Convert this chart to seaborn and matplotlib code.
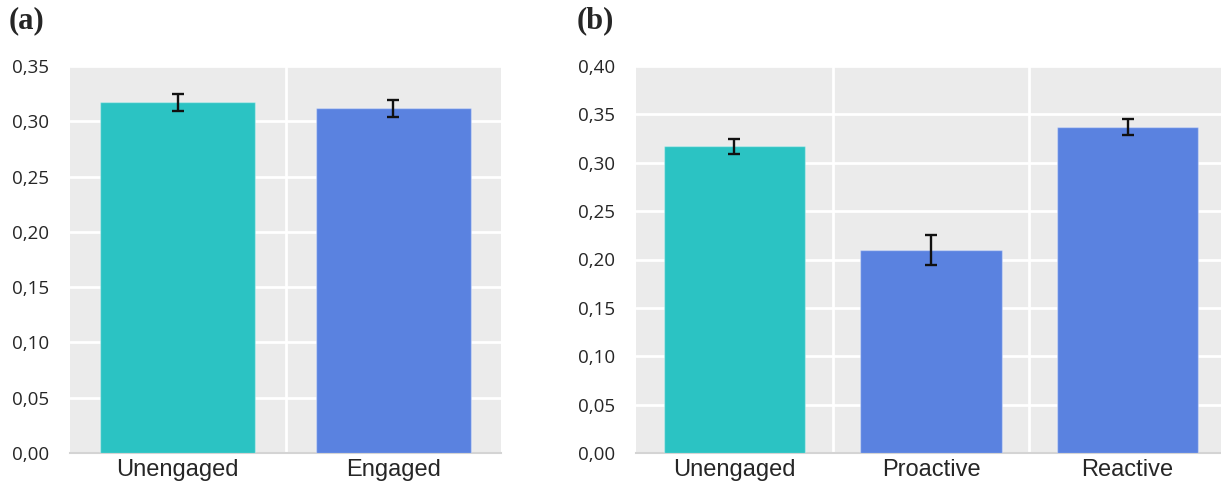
import matplotlib
matplotlib.use("Agg")
import matplotlib.pyplot as plt
import seaborn as sns
import pandas as pd
import numpy as np
from matplotlib.ticker import FuncFormatter

# ---- data ----
cats_a = ["Unengaged", "Engaged"]
vals_a = [0.317, 0.312]
err_a = [0.008, 0.0077]

cats_b = ["Unengaged", "Proactive", "Reactive"]
vals_b = [0.317, 0.210, 0.337]
err_b = [0.008, 0.0155, 0.0085]

yticks_a = [0.00, 0.05, 0.10, 0.15, 0.20, 0.25, 0.30, 0.35]
yticks_b = [0.00, 0.05, 0.10, 0.15, 0.20, 0.25, 0.30, 0.35, 0.40]

TEAL = "#2BC3C3"
BLUE = "#5A82E0"
BG = "#EBEBEB"

sns.set_theme(style="white")
plt.rcParams["font.family"] = ["Open Sans", "DejaVu Sans"]

fig = plt.figure(figsize=(12.21, 4.92), dpi=100)
ax_a = fig.add_axes([70 / 1221, 39 / 492, 431 / 1221, 387 / 492])
ax_b = fig.add_axes([636 / 1221, 39 / 492, 585 / 1221, 387 / 492])


def draw(ax, cats, vals, errs, yticks, colors, xmax):
    df = pd.DataFrame({"cat": cats, "val": vals})
    pal = dict(zip(cats, colors))
    sns.barplot(data=df, x="cat", y="val", hue="cat", palette=pal,
                order=cats, hue_order=cats, width=0.72, errorbar=None,
                legend=False, ax=ax, saturation=1, zorder=3)
    for p in ax.patches:
        p.set_edgecolor((1, 1, 1, 0.35))
        p.set_linewidth(1.0)
    ax.errorbar(np.arange(len(cats)), vals, yerr=errs, fmt="none",
                ecolor="#111111", elinewidth=1.7, capsize=4,
                capthick=1.7, zorder=4)
    ax.set_facecolor(BG)
    ax.set_ylim(0, yticks[-1])
    ax.set_xlim(-0.5, xmax)
    ax.set_yticks(yticks)
    ax.yaxis.set_major_formatter(FuncFormatter(lambda v, p: f"{v:.2f}".replace(".", ",")))
    ax.set_xticks(np.arange(len(cats)))
    ax.set_xticklabels(cats, fontsize=17, family=["Liberation Sans", "DejaVu Sans"])
    ax.set_xticks(np.arange(len(cats) - 1) + 0.5, minor=True)
    ax.grid(True, axis="y", which="major", color="white", linewidth=2, zorder=1)
    ax.grid(True, axis="x", which="minor", color="white", linewidth=2, zorder=1)
    ax.set_axisbelow(True)
    ax.tick_params(axis="y", which="both", length=0, pad=15, labelsize=13.5)
    ax.tick_params(axis="x", which="both", length=0, pad=4)
    for s in ["top", "right", "left"]:
        ax.spines[s].set_visible(False)
    ax.spines["bottom"].set_color("#D4D4D4")
    ax.spines["bottom"].set_linewidth(1.5)
    ax.set_xlabel("")
    ax.set_ylabel("")


draw(ax_a, cats_a, vals_a, err_a, yticks_a, [TEAL, BLUE], 1.5)
draw(ax_b, cats_b, vals_b, err_b, yticks_b, [TEAL, BLUE, BLUE], 2.475)

fig.text(9 / 1221, 1 - 21 / 492, "(a)", fontsize=22, fontweight="bold",
         family=["Liberation Serif", "DejaVu Serif"], va="center", ha="left")
fig.text(577 / 1221, 1 - 21 / 492, "(b)", fontsize=22, fontweight="bold",
         family=["Liberation Serif", "DejaVu Serif"], va="center", ha="left")

fig.savefig("out.png", dpi=100)
